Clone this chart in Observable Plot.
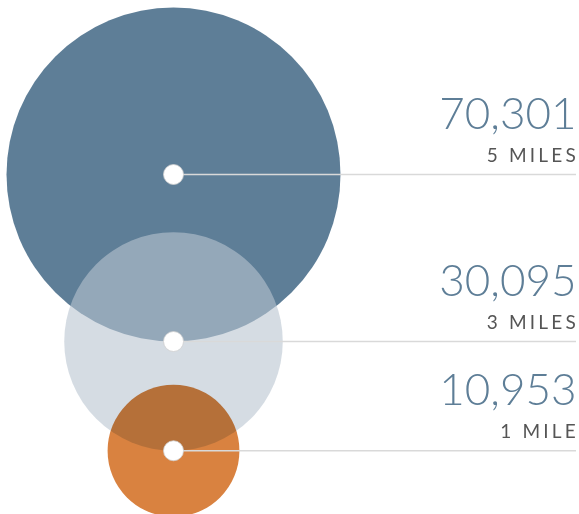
<!DOCTYPE html>
<html>
<head>
<meta charset="utf-8">
<script src="https://cdn.jsdelivr.net/npm/d3@7"></script>
<script src="https://cdn.jsdelivr.net/npm/@observablehq/plot@0.6"></script>
<style>
  html, body { margin: 0; padding: 0; background: #fff; }
  g[font-size="19"] text { letter-spacing: 3.2px; }
  g[fill="#d98240"] { mix-blend-mode: multiply; }
</style>
</head>
<body>
<div id="chart"></div>
<script>
// Data
const labels = ["5 MILES", "3 MILES", "1 MILE"];
const values = [70301, 30095, 10953];
const colors = ["#5e7e97", "#b9c5d0", "#d98240"];

// Layout parameters
const W = 579, H = 514;
const cx = 173;          // circle centers x
const topY = 7;          // top of largest circle
const rMax = 167;        // radius of largest circle (px)
const rightX = 576;      // right end of lines / labels

const rOf = v => rMax * Math.sqrt(v / d3.max(values));
const data = [];
let cy = topY + rOf(values[0]);
values.forEach((v, i) => {
  data.push({label: labels[i], value: v, num: d3.format(",")(v), cx, cy, x2: rightX, i});
  cy += rOf(v);
});

const chart = Plot.plot({
  width: W,
  height: H,
  margin: 0,
  x: {domain: [0, W], range: [0, W], axis: null},
  y: {domain: [0, H], range: [0, H], axis: null},
  r: {type: "sqrt", domain: [0, d3.max(values)], range: [0, rMax]},
  marks: [
    Plot.dot(data.filter(d => d.i === 0), {x: "cx", y: "cy", r: "value", fill: colors[0], stroke: "none"}),
    Plot.dot(data.filter(d => d.i === 1), {x: "cx", y: "cy", r: "value", fill: colors[1], fillOpacity: 0.6, stroke: "none"}),
    Plot.dot(data.filter(d => d.i === 2), {x: "cx", y: "cy", r: "value", fill: colors[2], stroke: "none", mixBlendMode: "multiply"}),
    Plot.ruleY(data, {y: "cy", x1: "cx", x2: "x2", stroke: "#d9d9d9", strokeWidth: 1.3}),
    Plot.dot(data, {x: "cx", y: "cy", r: 10, fill: "white", stroke: "#cfcfcf", strokeWidth: 0.8}),
    Plot.text(data, {x: "x2", y: "cy", text: "num", dy: -46, textAnchor: "end", lineAnchor: "bottom",
      fill: "#5e7e97", fontSize: 44, fontFamily: "Lato, 'Open Sans', sans-serif", fontWeight: 300}),
    Plot.text(data, {x: "x2", y: "cy", text: "label", dy: -13, dx: 2.5, textAnchor: "end", lineAnchor: "bottom",
      fill: "#555555", fontSize: 19, fontFamily: "Lato, 'Open Sans', sans-serif", fontWeight: 400})
  ]
});
document.getElementById("chart").appendChild(chart);
</script>
</body>
</html>
